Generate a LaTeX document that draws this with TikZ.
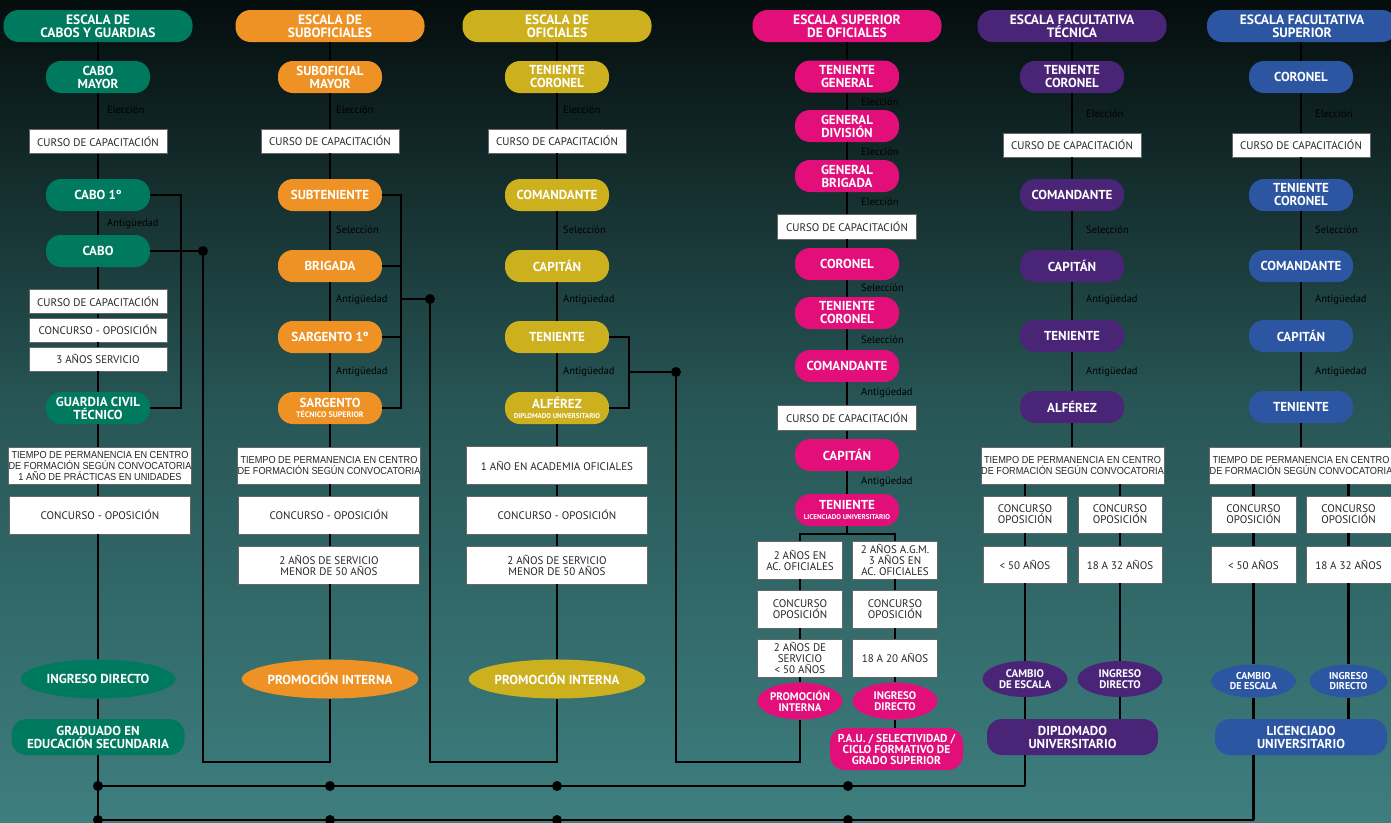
\documentclass[tikz,border=0pt]{standalone}
\usepackage{fontspec}
\setmainfont{PT Sans}
\newfontfamily\arl{Liberation Sans}[FakeStretch=0.9]
\usetikzlibrary{shapes.geometric}
\definecolor{cgreen}{HTML}{007A5E}
\definecolor{corange}{HTML}{EE9225}
\definecolor{cgold}{HTML}{CDB01E}
\definecolor{cpink}{HTML}{E20E7A}
\definecolor{cpurple}{HTML}{4A2577}
\definecolor{cblue}{HTML}{2C55A2}
\definecolor{bgtop}{HTML}{050D0D}
\definecolor{bgmid}{HTML}{285656}
\definecolor{bgbot}{HTML}{3E7E7F}
\begin{document}
\begin{tikzpicture}[x=1pt,y=1pt,
  ttl/.style={fill=#1, rounded corners=15pt, minimum width=189pt, minimum height=32pt, inner sep=0pt, align=center, text=white, font=\fontsize{13.5}{13}\selectfont\bfseries},
  rk/.style={fill=#1, rounded corners=15pt, minimum width=104pt, minimum height=32pt, inner sep=0pt, align=center, text=white, font=\fontsize{13}{13}\selectfont\bfseries},
  wb/.style={fill=white, draw=black!60, line width=0.8pt, inner sep=0pt, align=center, text=black!85},
  cur/.style={wb, minimum width=138pt, minimum height=24pt, font=\fontsize{11}{11}\selectfont},
  wide/.style={wb, minimum width=181pt, minimum height=38pt, font=\fontsize{11}{11}\selectfont},
  tiem/.style={wb, minimum width=181pt, minimum height=37pt, font=\arl\fontsize{10.2}{11}\selectfont},
  half/.style={wb, minimum width=85pt, minimum height=38pt, font=\fontsize{11}{11}\selectfont},
  ov/.style={ellipse, fill=#1, inner sep=0pt, align=center, text=white, minimum width=155pt, minimum height=39pt, font=\fontsize{13}{13}\selectfont\bfseries},
  sov/.style={ov=#1, minimum width=85pt, minimum height=37pt, font=\fontsize{11}{11}\selectfont\bfseries},
  lab/.style={anchor=west, inner sep=0pt, text=black, font=\fontsize{10.5}{11}\selectfont},
  ln/.style={line width=2.4pt, black},
  jdot/.style={circle, fill=black, inner sep=0pt, minimum size=10pt}
]
\useasboundingbox (0,0) rectangle (1391,-822);
\clip (0,0) rectangle (1391,-822);
\fill[top color=bgtop, bottom color=bgbot, middle color=bgmid] (0,0) rectangle (1391,-822);

% ---------------- Column 1 ----------------
\node[ttl=cgreen] (T1) at (98,-26) {ESCALA DE\\CABOS Y GUARDIAS};
\node[rk=cgreen] (R1a) at (98,-77) {CABO\\MAYOR};
\node[lab] (l1a) at (107,-110) {Elección};
\node[cur] (K1a) at (98,-141.5) {CURSO DE CAPACITACIÓN};
\node[rk=cgreen] (R1b) at (98,-195) {CABO 1º};
\node[lab] (l1b) at (107,-224) {Antigüedad};
\node[rk=cgreen] (R1c) at (98,-251) {CABO};
\node[cur] (K1b) at (98,-301.5) {CURSO DE CAPACITACIÓN};
\node[cur] (K1c) at (98,-330) {CONCURSO - OPOSICIÓN};
\node[cur] (K1d) at (98,-359) {3 AÑOS SERVICIO};
\node[rk=cgreen] (R1d) at (98,-408) {GUARDIA CIVIL\\TÉCNICO};
\node[tiem] (W1a) at (100,-465.5) {TIEMPO DE PERMANENCIA EN CENTRO\\DE FORMACIÓN SEGÚN CONVOCATORIA\\1 AÑO DE PRÁCTICAS EN UNIDADES};
\node[wide] (W1b) at (100,-515) {CONCURSO - OPOSICIÓN};
\node[ov=cgreen] (O1) at (98,-679) {INGRESO DIRECTO};
\node[rk=cgreen, minimum width=173pt, minimum height=36pt] (G1) at (98,-737) {GRADUADO EN\\EDUCACIÓN SECUNDARIA};

% ---------------- Column 2 ----------------
\node[ttl=corange] (T2) at (330,-26) {ESCALA DE\\SUBOFICIALES};
\node[rk=corange] (R2a) at (330,-77) {SUBOFICIAL\\MAYOR};
\node[lab] (l2a) at (336,-110) {Elección};
\node[cur] (K2a) at (330,-141) {CURSO DE CAPACITACIÓN};
\node[rk=corange] (R2b) at (330,-195) {SUBTENIENTE};
\node[lab] (l2b) at (336,-230) {Selección};
\node[rk=corange] (R2c) at (330,-266) {BRIGADA};
\node[lab] (l2c) at (336,-300) {Antigüedad};
\node[rk=corange] (R2d) at (330,-337) {SARGENTO 1º};
\node[lab] (l2d) at (336,-372) {Antigüedad};
\node[rk=corange] (R2e) at (330,-408) {SARGENTO\\[-2.5pt]{\fontsize{8}{8}\selectfont TÉCNICO SUPERIOR}};
\node[tiem] (W2a) at (329,-465.5) {TIEMPO DE PERMANENCIA EN CENTRO\\DE FORMACIÓN SEGÚN CONVOCATORIA};
\node[wide] (W2b) at (329,-515) {CONCURSO - OPOSICIÓN};
\node[wide] (W2c) at (329,-565) {2 AÑOS DE SERVICIO\\MENOR DE 50 AÑOS};
\node[ov=corange] (O2) at (330,-679) {PROMOCIÓN INTERNA};

% ---------------- Column 3 ----------------
\node[ttl=cgold] (T3) at (557,-26) {ESCALA DE\\OFICIALES};
\node[rk=cgold] (R3a) at (557,-77) {TENIENTE\\CORONEL};
\node[lab] (l3a) at (563,-110) {Elección};
\node[cur] (K3a) at (557,-141) {CURSO DE CAPACITACIÓN};
\node[rk=cgold] (R3b) at (557,-195) {COMANDANTE};
\node[lab] (l3b) at (563,-230) {Selección};
\node[rk=cgold] (R3c) at (557,-266) {CAPITÁN};
\node[lab] (l3c) at (563,-300) {Antigüedad};
\node[rk=cgold] (R3d) at (557,-337) {TENIENTE};
\node[lab] (l3d) at (563,-372) {Antigüedad};
\node[rk=cgold] (R3e) at (557,-408) {ALFÉREZ\\[-2.5pt]{\fontsize{7}{7}\selectfont DIPLOMADO UNIVERSITARIO}};
\node[wide] (W3a) at (557,-465.5) {1 AÑO EN ACADEMIA OFICIALES};
\node[wide] (W3b) at (557,-515) {CONCURSO - OPOSICIÓN};
\node[wide] (W3c) at (557,-565) {2 AÑOS DE SERVICIO\\MENOR DE 50 AÑOS};
\node[ov=cgold] (O3) at (557,-679) {PROMOCIÓN INTERNA};

% ---------------- Column 4 ----------------
\node[ttl=cpink] (T4) at (847,-26) {ESCALA SUPERIOR\\DE OFICIALES};
\node[rk=cpink] (R4a) at (847,-76.5) {TENIENTE\\GENERAL};
\node[lab] (l4a) at (861,-102) {Elección};
\node[rk=cpink] (R4b) at (847,-126) {GENERAL\\DIVISIÓN};
\node[lab] (l4b) at (861,-152) {Elección};
\node[rk=cpink] (R4c) at (847,-176) {GENERAL\\BRIGADA};
\node[lab] (l4c) at (861,-202) {Elección};
\node[cur, minimum width=139pt, minimum height=25pt] (K4a) at (847,-226.5) {CURSO DE CAPACITACIÓN};
\node[rk=cpink] (R4d) at (847,-264) {CORONEL};
\node[lab] (l4d) at (861,-288) {Selección};
\node[rk=cpink] (R4e) at (847,-313) {TENIENTE\\CORONEL};
\node[lab] (l4e) at (861,-340) {Selección};
\node[rk=cpink] (R4f) at (847,-366) {COMANDANTE};
\node[lab] (l4f) at (861,-393) {Antigüedad};
\node[cur, minimum width=139pt, minimum height=25pt] (K4b) at (847,-418) {CURSO DE CAPACITACIÓN};
\node[rk=cpink] (R4g) at (847,-455) {CAPITÁN};
\node[lab] (l4g) at (861,-482) {Antigüedad};
\node[rk=cpink] (R4h) at (847,-510) {TENIENTE\\[-2.5pt]{\fontsize{7}{7}\selectfont LICENCIADO UNIVERSITARIO}};
\node[half] (H4a) at (800,-560) {2 AÑOS EN\\AC. OFICIALES};
\node[half] (H4b) at (895,-560) {2 AÑOS A.G.M.\\3 AÑOS EN\\AC. OFICIALES};
\node[half] (H4c) at (800,-609) {CONCURSO\\OPOSICIÓN};
\node[half] (H4d) at (895,-609) {CONCURSO\\OPOSICIÓN};
\node[half] (H4e) at (800,-658) {2 AÑOS DE\\SERVICIO\\< 50 AÑOS};
\node[half] (H4f) at (895,-658) {18 A 20 AÑOS};
\node[sov=cpink] (O4a) at (800,-701) {PROMOCIÓN\\INTERNA};
\node[sov=cpink] (O4b) at (895,-701) {INGRESO\\DIRECTO};
\node[rk=cpink, minimum width=133pt, minimum height=42pt, font=\fontsize{11.5}{11}\selectfont\bfseries] (P4) at (896.5,-749) {P.A.U. / SELECTIVIDAD /\\CICLO FORMATIVO DE\\GRADO SUPERIOR};

% ---------------- Column 5 ----------------
\node[ttl=cpurple] (T5) at (1072,-26) {ESCALA FACULTATIVA\\TÉCNICA};
\node[rk=cpurple] (R5a) at (1072,-77) {TENIENTE\\CORONEL};
\node[lab] (l5a) at (1086,-114) {Elección};
\node[cur] (K5a) at (1072,-145) {CURSO DE CAPACITACIÓN};
\node[rk=cpurple] (R5b) at (1072,-195) {COMANDANTE};
\node[lab] (l5b) at (1086,-230) {Selección};
\node[rk=cpurple] (R5c) at (1072,-266) {CAPITÁN};
\node[lab] (l5c) at (1086,-300) {Antigüedad};
\node[rk=cpurple] (R5d) at (1072,-336) {TENIENTE};
\node[lab] (l5d) at (1086,-372) {Antigüedad};
\node[rk=cpurple] (R5e) at (1072,-407) {ALFÉREZ};
\node[tiem, minimum width=179pt] (W5a) at (1072.5,-465.5) {TIEMPO DE PERMANENCIA EN CENTRO\\DE FORMACIÓN SEGÚN CONVOCATORIA};
\node[half, minimum width=84pt, minimum height=37pt] (H5a) at (1025,-514.5) {CONCURSO\\OPOSICIÓN};
\node[half, minimum width=84pt, minimum height=37pt] (H5b) at (1120,-514.5) {CONCURSO\\OPOSICIÓN};
\node[half, minimum width=84pt, minimum height=37pt] (H5c) at (1025,-564.5) {< 50 AÑOS};
\node[half, minimum width=84pt, minimum height=37pt] (H5d) at (1120,-564.5) {18 A 32 AÑOS};
\node[sov=cpurple, minimum height=36pt] (O5a) at (1025,-679) {CAMBIO\\DE ESCALA};
\node[sov=cpurple, minimum height=36pt] (O5b) at (1120,-679) {INGRESO\\DIRECTO};
\node[rk=cpurple, minimum width=171pt, minimum height=36pt] (D5) at (1072.5,-737) {DIPLOMADO\\UNIVERSITARIO};

% ---------------- Column 6 ----------------
\node[ttl=cblue, minimum width=190pt] (T6) at (1302,-26) {ESCALA FACULTATIVA\\SUPERIOR};
\node[rk=cblue] (R6a) at (1301,-77) {CORONEL};
\node[lab] (l6a) at (1315,-114) {Elección};
\node[cur] (K6a) at (1301,-145) {CURSO DE CAPACITACIÓN};
\node[rk=cblue] (R6b) at (1301,-195) {TENIENTE\\CORONEL};
\node[lab] (l6b) at (1315,-230) {Selección};
\node[rk=cblue] (R6c) at (1301,-266) {COMANDANTE};
\node[lab] (l6c) at (1315,-300) {Antigüedad};
\node[rk=cblue] (R6d) at (1301,-336) {CAPITÁN};
\node[lab] (l6d) at (1315,-372) {Antigüedad};
\node[rk=cblue] (R6e) at (1301,-407) {TENIENTE};
\node[tiem, minimum width=180pt] (W6a) at (1301,-465.5) {TIEMPO DE PERMANENCIA EN CENTRO\\DE FORMACIÓN SEGÚN CONVOCATORIA};
\node[half, minimum width=85pt, minimum height=37pt] (H6a) at (1253.5,-514.5) {CONCURSO\\OPOSICIÓN};
\node[half, minimum width=85pt, minimum height=37pt] (H6b) at (1348.5,-514.5) {CONCURSO\\OPOSICIÓN};
\node[half, minimum width=85pt, minimum height=37pt] (H6c) at (1253.5,-564.5) {< 50 AÑOS};
\node[half, minimum width=85pt, minimum height=37pt] (H6d) at (1348.5,-564.5) {18 A 32 AÑOS};
\node[sov=cblue, minimum height=33pt, font=\fontsize{10}{10}\selectfont\bfseries] (O6a) at (1253.5,-681) {CAMBIO\\DE ESCALA};
\node[sov=cblue, minimum width=78pt, minimum height=33pt, font=\fontsize{10}{10}\selectfont\bfseries] (O6b) at (1348.5,-681) {INGRESO\\DIRECTO};
\node[rk=cblue, minimum width=172pt, minimum height=36pt] (L6) at (1301,-737) {LICENCIADO\\UNIVERSITARIO};

% ---------------- coordinates ----------------
\coordinate (B1) at (98,-820);
\coordinate (A1) at (98,-786);
\coordinate (L1) at (181,0);
\coordinate (D1) at (203,-251);
\coordinate (E2) at (330,-762);
\coordinate (L2) at (401,0);
\coordinate (D2) at (430,-299);
\coordinate (E3) at (557,-762);
\coordinate (L3) at (629,0);
\coordinate (D3) at (676,-372);
\coordinate (E4) at (800,-762);
\coordinate (S4) at (847,-534);
\coordinate (B5) at (1025,-786);
\coordinate (B6) at (1253.5,-820);

% ---------------- connectors ----------------
\begin{scope}[ln]
\draw (T1) -- (R1a) -- (K1a) -- (R1b) -- (R1c) -- (K1b) -- (K1c) -- (K1d) -- (R1d) -- (W1a.north -| R1d) ;
\draw (W1a.south -| R1d) -- (W1b.north -| R1d);
\draw (W1b.south -| R1d) -- (O1) -- (G1) -- (B1);
\draw (R1b.east) -- (R1b.east -| L1) -- (R1d.east -| L1) -- (R1d.east);
\draw (R1c.east) -- (D1);
\draw (D1) |- (E2) -- (O2);

\draw (T2) -- (R2a) -- (K2a.north -| R2a);
\draw (K2a.south -| R2a) -- (R2b) -- (R2c) -- (R2d) -- (R2e) -- (W2a.north -| R2e);
\draw (W2a.south -| R2e) -- (W2b.north -| R2e);
\draw (W2b.south -| R2e) -- (W2c.north -| R2e);
\draw (W2c.south -| R2e) -- (O2);
\draw (R2b.east) -| (R2e.east -| L2) -- (R2e.east);
\draw (R2c.east) -- (R2c.east -| L2);
\draw (R2d.east) -- (R2d.east -| L2);
\draw (D2 -| L2) -- (D2);
\draw (D2) |- (E3) -- (O3);

\draw (T3) -- (R3a) -- (K3a) -- (R3b) -- (R3c) -- (R3d) -- (R3e) -- (W3a) -- (W3b) -- (W3c) -- (O3);
\draw (R3d.east) -| (R3e.east -| L3) -- (R3e.east);
\draw (D3 -| L3) -- (D3);
\draw (D3) |- (E4) -- (O4a);

\draw (T4) -- (R4a) -- (R4b) -- (R4c) -- (K4a) -- (R4d) -- (R4e) -- (R4f) -- (K4b) -- (R4g) -- (R4h) -- (S4);
\draw (H4a.north) |- (S4) -| (H4b.north);
\draw (H4a) -- (H4c) -- (H4e) -- (O4a);
\draw (H4b) -- (H4d) -- (H4f) -- (O4b);
\draw (O4b.south) -- (O4b.south |- P4.north);

\draw (T5) -- (R5a) -- (K5a) -- (R5b) -- (R5c) -- (R5d) -- (R5e) -- (W5a.north -| R5e);
\draw (W5a.south -| H5a) -- (H5a) -- (H5c) -- (O5a) -- (O5a.south |- D5.north);
\draw (W5a.south -| H5b) -- (H5b) -- (H5d) -- (O5b) -- (O5b.south |- D5.north);
\draw (D5.south -| O5a) -- (B5);

\draw (T6.south -| R6a) -- (R6a) -- (K6a) -- (R6b) -- (R6c) -- (R6d) -- (R6e) -- (W6a);
\draw (W6a.south -| H6a) -- (H6a) -- (H6c) -- (O6a) -- (O6a.south |- L6.north);
\draw (W6a.south -| H6b) -- (H6b) -- (H6d) -- (O6b) -- (O6b.south |- L6.north);
\draw (L6.south -| O6a) -- (B6);

\draw (A1) -- (B5);
\draw (B1) -- (B6);
\end{scope}

\node[jdot] (j1) at (D1) {};
\node[jdot] (j2) at (D2) {};
\node[jdot] (j3) at (D3) {};
\node[jdot] (ja1) at (A1) {};
\node[jdot] (ja2) at (330,-786) {};
\node[jdot] (ja3) at (557,-786) {};
\node[jdot] (ja4) at (848,-786) {};
\node[jdot] (jb1) at (B1) {};
\node[jdot] (jb2) at (330,-820) {};
\node[jdot] (jb3) at (557,-820) {};
\node[jdot] (jb4) at (848,-820) {};
\end{tikzpicture}
\end{document}
